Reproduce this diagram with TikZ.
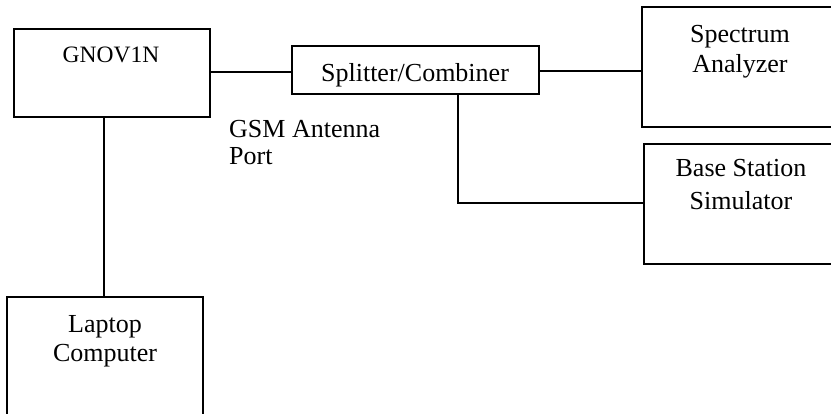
\documentclass[tikz,border=0pt]{standalone}
\usepackage{fontspec}
\setmainfont{Liberation Serif}
\begin{document}
\begin{tikzpicture}[x=1pt,y=-1pt,
  box/.style={draw=black,line width=2pt,rectangle,inner sep=0pt,fill=none},
  conn/.style={draw=black,line width=2pt},
  lbl/.style={anchor=base,inner sep=0pt,font=\fontsize{26}{30}\selectfont},
  lblsmall/.style={anchor=base,inner sep=0pt,font=\fontsize{23.5}{28}\selectfont}]
\useasboundingbox (0,0) rectangle (831,414);
\clip (0,0) rectangle (831,414);
% boxes
\node[box,minimum width=196pt,minimum height=88pt] (gnov) at (112,73) {};
\node[box,minimum width=247pt,minimum height=48pt] (split) at (415.5,70) {};
\node[box,minimum width=203pt,minimum height=120pt] (spec) at (743.5,67) {};
\node[box,minimum width=201pt,minimum height=120pt] (base) at (744.5,204) {};
\node[box,minimum width=196pt,minimum height=143pt] (laptop) at (105,368.5) {};
% texts
\node[lblsmall] (tgnov) at (111,63) {GNOV1N};
\node[lbl] (tsplit) at (415,82) {Splitter/Combiner};
\node[lbl] (tspec1) at (740,43) {Spectrum};
\node[lbl] (tspec2) at (740,73) {Analyzer};
\node[lbl] (tbase1) at (741,177) {Base Station};
\node[lbl] (tbase2) at (741,210) {Simulator};
\node[lbl,anchor=base west] (tgsm1) at (229,138) {GSM Antenna};
\node[lbl,anchor=base west] (tgsm2) at (229,165) {Port};
\node[lbl] (tlap1) at (105,333) {Laptop};
\node[lbl] (tlap2) at (105,362) {Computer};
% connectors
\coordinate (ya) at (0,72);
\coordinate (yb) at (0,71);
\coordinate (xs) at (458,0);
\coordinate (xl) at (104,0);
\coordinate (bend) at (458,203);
\draw[conn] (gnov.east |- ya) -- (split.west |- ya);
\draw[conn] (split.east |- yb) -- (spec.west |- yb);
\draw[conn] (split.south -| xs) -- (bend) -- (base.west |- bend);
\draw[conn] (gnov.south -| xl) -- (laptop.north -| xl);
\end{tikzpicture}
\end{document}
